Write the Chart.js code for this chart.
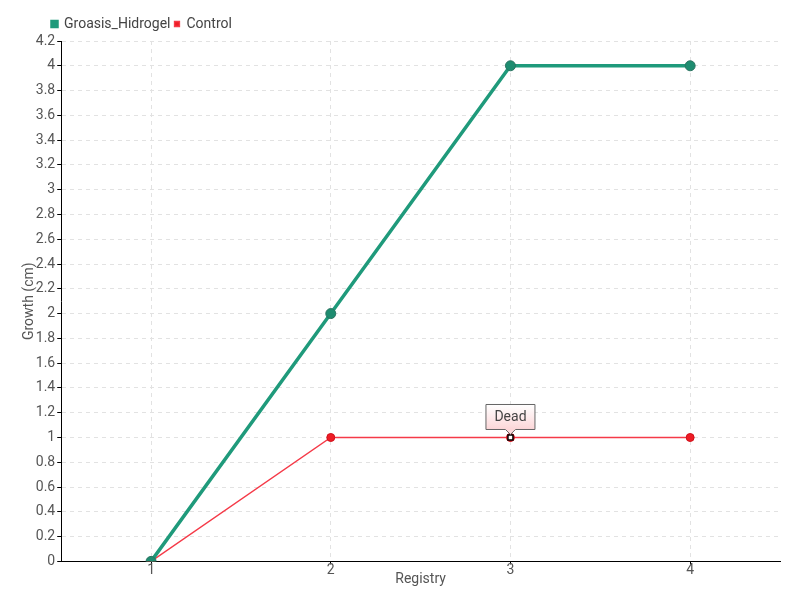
<!DOCTYPE html>
<html>
<head>
<meta charset="utf-8">
<script src="https://cdn.jsdelivr.net/npm/chart.js@4/dist/chart.umd.min.js"></script>
<style>
  html, body { margin: 0; padding: 0; background: #fff; }
</style>
</head>
<body>
<canvas id="growth" width="800" height="600"></canvas>
<script>
var registry = ['1', '2', '3', '4'];
var hidrogel = [0, 2, 4, 4];
var control = [0, 1, 1, 1];
var notes = [{ series: 1, index: 2, text: 'Dead' }];

var FONT = 'Roboto, "DejaVu Sans", sans-serif';
Chart.defaults.font.family = FONT;
Chart.defaults.font.size = 14;
Chart.defaults.color = '#555';

// small callout box above an annotated point
var calloutPlugin = {
	id: 'callout',
	afterLayout: function (chart) {
		// legend sits a bit in from the left edge
		chart.legend.left += 27;
	},
	afterDatasetsDraw: function (chart) {
		var c = chart.ctx;
		notes.forEach(function (n) {
			var pt = chart.getDatasetMeta(n.series).data[n.index];
			var x = pt.x, y = pt.y;
			var w = 49, h = 25, bottom = y - 8, top = bottom - h;
			c.save();
			// marker on the point
			c.fillStyle = '#fff';
			c.strokeStyle = '#000';
			c.lineWidth = 1.5;
			c.fillRect(x - 2.5, y - 2.5, 5, 5);
			c.strokeRect(x - 2.5, y - 2.5, 5, 5);
			var g = c.createLinearGradient(0, top, 0, bottom);
			g.addColorStop(0, '#ffffff');
			g.addColorStop(1, '#fcd6d8');
			c.beginPath();
			c.moveTo(x - w / 2, top);
			c.lineTo(x + w / 2, top);
			c.lineTo(x + w / 2, bottom);
			c.lineTo(x + 5, bottom);
			c.lineTo(x, bottom + 5);
			c.lineTo(x - 5, bottom);
			c.lineTo(x - w / 2, bottom);
			c.closePath();
			c.fillStyle = g;
			c.fill();
			c.strokeStyle = '#666';
			c.lineWidth = 1;
			c.stroke();
			c.fillStyle = '#444';
			c.font = '14px ' + FONT;
			c.textAlign = 'center';
			c.textBaseline = 'middle';
			c.fillText(n.text, x, top + h / 2 + 1);
			c.restore();
		});
	}
};

var ctx = document.getElementById('growth').getContext('2d');
var chart = new Chart(ctx, {
	type: 'line',
	data: {
		labels: registry,
		datasets: [{
			label: 'Groasis_Hidrogel',
			data: hidrogel,
			borderColor: '#1f9a7b',
			backgroundColor: '#1f9a7b',
			borderWidth: 3.5,
			pointRadius: 5,
			pointBackgroundColor: '#1e8c70',
			pointBorderColor: '#2b7461',
			pointBorderWidth: 1,
			tension: 0
		}, {
			label: 'Control',
			data: control,
			borderColor: '#f53a48',
			backgroundColor: '#ee1c25',
			borderWidth: 1.3,
			pointRadius: 4,
			pointBackgroundColor: '#ee1c25',
			pointBorderColor: '#d0101a',
			pointBorderWidth: 1,
			tension: 0
		}]
	},
	options: {
		responsive: false,
		animation: false,
		layout: { padding: { left: 21, right: 20, top: 13, bottom: 12 } },
		plugins: {
			legend: {
				position: 'top',
				align: 'start',
				labels: {
					boxWidth: 5,
					boxHeight: 5,
					padding: 4,
					font: { size: 14 },
					color: '#444'
				}
			},
			tooltip: { enabled: false }
		},
		scales: {
			x: {
				offset: true,
				title: { display: true, text: 'Registry', padding: { top: -6, bottom: 0 }, color: '#555' },
				grid: {
					color: '#e2e2e2',
					tickColor: '#000',
					tickBorderDash: [],
					tickLength: 3
				},
				border: { color: '#000', width: 1, dash: [4, 4] },
				ticks: { padding: -2, color: '#555', autoSkip: false }
			},
			y: {
				min: 0,
				max: 4.2,
				title: { display: true, text: 'Growth (cm)', padding: { top: 0, bottom: -4 }, color: '#555' },
				grid: {
					color: '#e2e2e2',
					tickColor: '#000',
					tickBorderDash: [],
					tickLength: 4
				},
				border: { color: '#000', width: 1, dash: [4, 4] },
				ticks: {
					stepSize: 0.2,
					autoSkip: false,
					padding: 2,
					color: '#555',
					callback: function (v) { return String(Number(v.toFixed(1))); }
				}
			}
		}
	},
	plugins: [calloutPlugin]
});
</script>
</body>
</html>
